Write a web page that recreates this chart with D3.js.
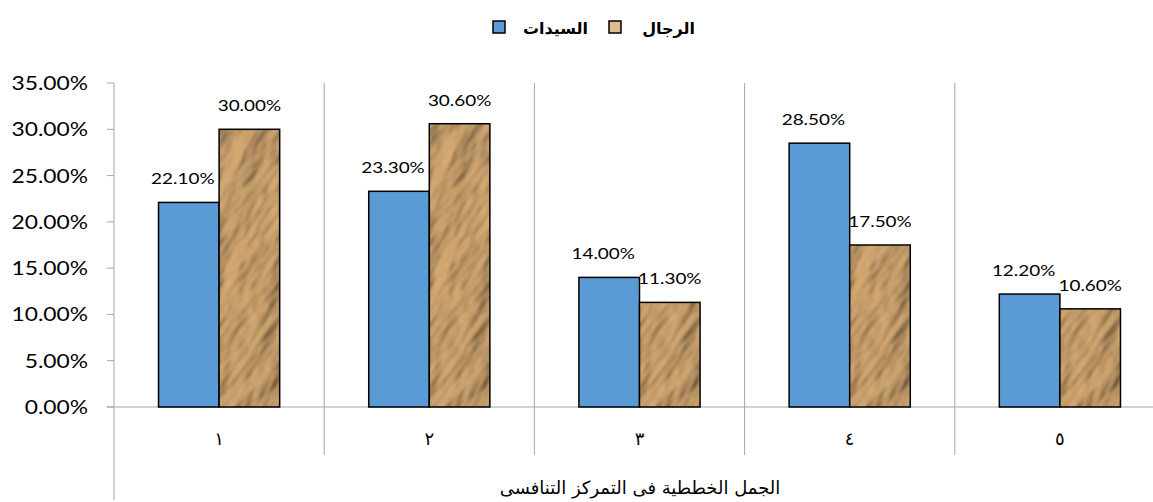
<!DOCTYPE html>
<html>
<head>
<meta charset="utf-8">
<script src="https://cdn.jsdelivr.net/npm/d3@7"></script>
<style>
  body { margin: 0; background: #fff; }
  svg { display: block; }
</style>
</head>
<body>
<div class="chart"></div>
<script>
const FRAME_WIDTH = 1153;
const FRAME_HEIGHT = 502;

// data
const categories = ["١", "٢", "٣", "٤", "٥"];
const seriesNames = ["السيدات", "الرجال"];
const women = [22.1, 23.3, 14.0, 28.5, 12.2];
const men = [30.0, 30.6, 11.3, 17.5, 10.6];
const yTicks = [0, 5, 10, 15, 20, 25, 30, 35];
const xTitle = "الجمل الخططية فى التمركز التنافسى";

const PLOT = {left: 114, right: 1165, top: 83, bottom: 407};
const GRID = "#a6a6a6";
const BLUE = "#5b9bd5";

const svg = d3.select(".chart")
    .append("svg")
    .attr("width", FRAME_WIDTH)
    .attr("height", FRAME_HEIGHT);

// crumpled paper texture for the second series
const defs = svg.append("defs");
const filt = defs.append("filter")
    .attr("id", "paper")
    .attr("x", 0).attr("y", 0).attr("width", 1).attr("height", 1);
filt.append("feTurbulence")
    .attr("type", "fractalNoise")
    .attr("baseFrequency", "0.018 0.04")
    .attr("numOctaves", 3)
    .attr("seed", 11)
    .attr("result", "noise");
filt.append("feDiffuseLighting")
    .attr("in", "noise")
    .attr("lighting-color", "#c89f6c")
    .attr("surfaceScale", 6)
    .attr("diffuseConstant", 1.2)
    .attr("result", "lit")
    .append("feDistantLight")
    .attr("azimuth", 235)
    .attr("elevation", 48);
filt.append("feComposite")
    .attr("in", "lit")
    .attr("in2", "SourceGraphic")
    .attr("operator", "in");

const TILE = 700;
defs.append("pattern")
    .attr("id", "paperTex")
    .attr("patternUnits", "userSpaceOnUse")
    .attr("width", TILE).attr("height", TILE)
    .attr("patternTransform", "rotate(-55)")
    .append("rect")
    .attr("width", TILE).attr("height", TILE)
    .attr("fill", "#c9a070")
    .attr("filter", "url(#paper)");

const x0 = d3.scaleBand().domain(categories).range([PLOT.left, PLOT.right]);
const x1 = d3.scaleBand().domain(seriesNames).range([0, x0.bandwidth()]).paddingOuter(0.735);
const y = d3.scaleLinear().domain([0, 35]).range([PLOT.bottom, PLOT.top]);
const fmt = d => d3.format(".2f")(d) + "%";

// y axis line and ticks
svg.append("line")
    .attr("x1", PLOT.left).attr("x2", PLOT.left)
    .attr("y1", PLOT.top).attr("y2", 500)
    .attr("stroke", GRID);
svg.selectAll(".ytick")
    .data(yTicks)
    .enter().append("line")
    .attr("x1", PLOT.left - 7).attr("x2", PLOT.left)
    .attr("y1", d => y(d)).attr("y2", d => y(d))
    .attr("stroke", GRID);
svg.selectAll(".ylabel")
    .data(yTicks)
    .enter().append("text")
    .attr("transform", d => "translate(88," + (y(d) + 7) + ") scale(1.2,1)")
    .attr("text-anchor", "end")
    .attr("font-family", "Lato, 'Open Sans', sans-serif")
    .attr("font-size", 19)
    .text(fmt);

// category separators
svg.selectAll(".sep")
    .data(categories.slice(1))
    .enter().append("line")
    .attr("x1", d => x0(d)).attr("x2", d => x0(d))
    .attr("y1", PLOT.top).attr("y2", 455)
    .attr("stroke", GRID);

// x axis line
svg.append("line")
    .attr("x1", PLOT.left - 7).attr("x2", FRAME_WIDTH)
    .attr("y1", PLOT.bottom).attr("y2", PLOT.bottom)
    .attr("stroke", GRID);

// bars
const rows = categories.map((c, i) => ({cat: c, vals: [women[i], men[i]]}));
const groups = svg.selectAll(".grp")
    .data(rows)
    .enter().append("g")
    .attr("transform", d => "translate(" + x0(d.cat) + ",0)");

groups.each(function(d) {
    const g = d3.select(this);
    d.vals.forEach((v, k) => {
        const bx = x1(seriesNames[k]);
        const bw = x1.bandwidth();
        g.append("rect")
            .attr("x", bx).attr("y", y(v))
            .attr("width", bw).attr("height", y(0) - y(v))
            .attr("fill", k === 0 ? BLUE : "url(#paperTex)")
            .attr("stroke", "#000")
            .attr("stroke-width", 1.5);
        g.append("text")
            .attr("transform", "translate(" + (bx + bw / 2 - (k === 0 ? 6 : 0)) + "," + (y(v) - 18) + ") scale(1.22,1)")
            .attr("text-anchor", "middle")
            .attr("font-family", "Lato, 'Open Sans', sans-serif")
            .attr("font-size", 15.5)
            .text(fmt(v));
    });
});

// category labels
svg.selectAll(".xlabel")
    .data(categories)
    .enter().append("text")
    .attr("x", d => x0(d) + x0.bandwidth() / 2)
    .attr("y", 445)
    .attr("text-anchor", "middle")
    .attr("font-family", "'DejaVu Sans', sans-serif")
    .attr("font-size", 18)
    .text(d => d);

// axis title
svg.append("text")
    .attr("x", 640)
    .attr("y", 494)
    .attr("text-anchor", "middle")
    .attr("direction", "rtl")
    .attr("font-family", "'DejaVu Sans', sans-serif")
    .attr("font-size", 18)
    .text(xTitle);

// legend
const legend = [
    {name: seriesNames[0], box: 493, text: 588},
    {name: seriesNames[1], box: 609, text: 695}
];
legend.forEach((l, k) => {
    svg.append("rect")
        .attr("x", l.box).attr("y", 21).attr("width", 12).attr("height", 12)
        .attr("fill", k === 0 ? BLUE : "#dcbc90")
        .attr("stroke", "#000").attr("stroke-width", 1.5);
    svg.append("text")
        .attr("x", l.text).attr("y", 34)
        .attr("text-anchor", "end")
        .attr("font-family", "'DejaVu Sans', sans-serif")
        .attr("font-weight", "bold")
        .attr("font-size", 16)
        .text(l.name);
});
</script>
</body>
</html>
